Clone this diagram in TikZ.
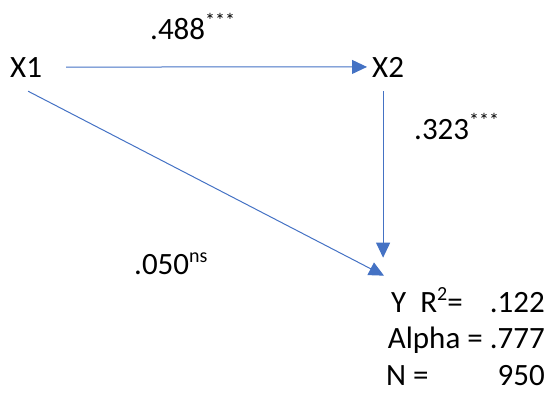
\documentclass[tikz,border=0pt]{standalone}
\usepackage{fontspec}
\setmainfont{Carlito}
\usepackage{tikz}
\usetikzlibrary{arrows.meta,calc}
\definecolor{PathBlue}{HTML}{4472C4}
\newcommand{\sups}[1]{\raisebox{0.36em}{\fontsize{20}{20}\selectfont #1}}

\begin{document}
\begin{tikzpicture}[x=1pt,y=-1pt,
          every node/.style={font=\fontsize{31}{37}\selectfont,inner sep=0pt,anchor=base west},
          arr/.style={-{Triangle[length=15pt,width=14pt]},line width=1pt,PathBlue}]
        \useasboundingbox (0,0) rectangle (550,392);
        \node (x1)  at (10,77)  {X1};
        \node (x2)  at (372,77) {X2};
        \node (b12) at (150,39) {.488\sups{***}};
        \node (b2y) at (414,139) {.323\sups{***}};
        \node (b1y) at (134,274) {.050\sups{ns}};
        \node (y)   at (391,312) {Y\ \ R\sups{2}=};
        \node[anchor=base east] (ry) at (545,312) {.122};
        \node[anchor=base east] (al) at (545,348) {Alpha = .777};
        \node (n)   at (386,385) {N =};
        \node[anchor=base east] (vn) at (545,385) {950};

        \draw[arr,shorten <=24pt,shorten >=5pt] (x1.east) -- (x2.west);
        \draw[arr] ([xshift=2pt,yshift=-14pt]x1.south) -- ([xshift=-7pt,yshift=12pt]y.north west);
        \draw[arr] ([xshift=-5pt,yshift=-14pt]x2.south) -- ([xshift=-5pt,yshift=30pt]x2.south |- y.north);
      \end{tikzpicture}
\end{document}
